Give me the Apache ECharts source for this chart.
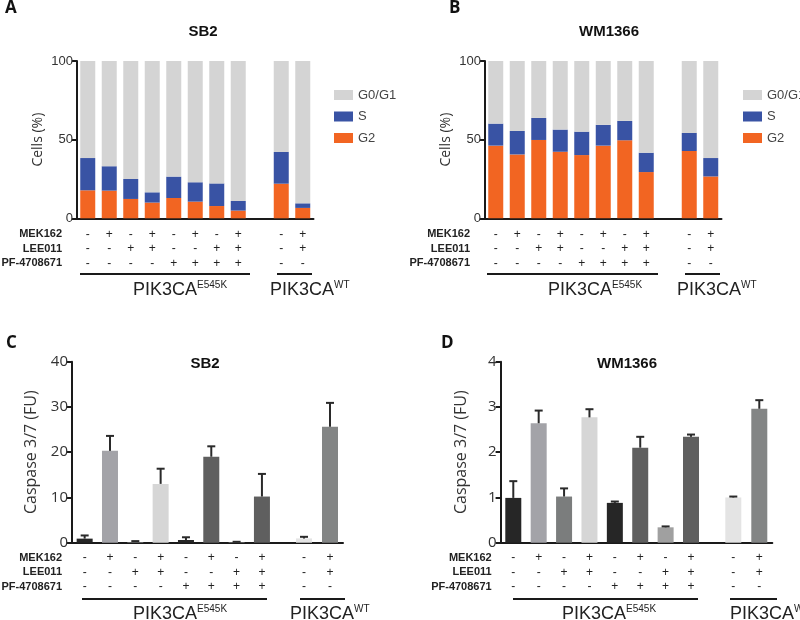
<!DOCTYPE html>
<html>
<head>
<meta charset="utf-8">
<script src="https://cdn.jsdelivr.net/npm/echarts@6/dist/echarts.min.js"></script>
<style>
  html, body { margin: 0; background: #fff; }
  #chart { width: 800px; height: 620px; }
</style>
</head>
<body>
<div id="chart"></div>
<script>
// treatments, PIK3CA E545K (8) and PIK3CA WT (2)
const mek162 = ['-', '+', '-', '+', '-', '+', '-', '+'];
const lee011 = ['-', '-', '+', '+', '-', '-', '+', '+'];
const pf4708671 = ['-', '-', '-', '-', '+', '+', '+', '+'];
const mek162WT = ['-', '+'];
const lee011WT = ['-', '+'];
const pf4708671WT = ['-', '-'];
const phases = ['G0/G1', 'S', 'G2'];

// cell cycle (%) - SB2
const sb2G2 = [17.8, 17.6, 12.3, 10.0, 12.9, 10.6, 7.8, 4.9];
const sb2S = [20.5, 15.5, 12.7, 6.5, 13.6, 12.3, 14.4, 6.1];
const sb2G0G1 = [61.7, 66.9, 75.0, 83.5, 73.5, 77.1, 77.8, 89.0];
const sb2G2WT = [22.0, 6.6];
const sb2SWT = [20.2, 2.9];
const sb2G0G1WT = [57.8, 90.5];

// cell cycle (%) - WM1366
const wmG2 = [46.2, 40.6, 49.8, 42.3, 40.2, 46.2, 49.6, 29.4];
const wmS = [14.0, 14.9, 14.0, 14.1, 14.9, 13.2, 12.3, 12.3];
const wmG0G1 = [39.8, 44.5, 36.2, 43.6, 44.9, 40.6, 38.1, 58.3];
const wmG2WT = [42.8, 26.6];
const wmSWT = [11.5, 11.7];
const wmG0G1WT = [45.7, 61.7];

// caspase 3/7 (FU), mean and upper SD
const sb2Casp = [0.9, 20.3, 0.15, 13.0, 0.6, 19.0, 0.1, 10.2];
const sb2CaspSD = [0.7, 3.3, 0.2, 3.35, 0.6, 2.3, 0.1, 5.0];
const sb2CaspWT = [0.95, 25.6];
const sb2CaspSDWT = [0.35, 5.3];
const wmCasp = [0.99, 2.64, 1.02, 2.77, 0.88, 2.10, 0.34, 2.34];
const wmCaspSD = [0.37, 0.28, 0.18, 0.18, 0.03, 0.24, 0.02, 0.05];
const wmCaspWT = [1.0, 2.96];
const wmCaspSDWT = [0.02, 0.19];

const ticksCells = [0, 50, 100];
const ticksSB2 = [0, 10, 20, 30, 40];
const ticksWM = [0, 1, 2, 3, 4];

// styles
const phaseColors = { 'G0/G1': '#d4d4d4', 'S': '#3953a4', 'G2': '#f26522' };
const condColors = ['#262626', '#a3a3a8', '#7b7d7d', '#d6d6d6', '#262626', '#5f5f5f', '#a0a0a0', '#5f5f5f'];
const condColorsWT = ['#e4e4e4', '#838585'];
const ink = '#1a1a1a';
const arial = 'Liberation Sans, Arial, sans-serif';
const myriad = 'Open Sans, Liberation Sans, sans-serif';

const chart = echarts.init(document.getElementById('chart'));

// 8 mutant slots, an empty slot, 2 WT slots
const withGap = (a, wt) => [...a, '-', ...wt];
const signs = (i) => {
  if (i < 8) return [mek162[i], lee011[i], pf4708671[i]].join('\n');
  if (i === 8) return '';
  const j = i - 9;
  return [mek162WT[j], lee011WT[j], pf4708671WT[j]].join('\n');
};
const signsWT = (i) => i === 0 ? '' : [mek162WT[i - 1], lee011WT[i - 1], pf4708671WT[i - 1]].join('\n');
const signsMut = (i) => [mek162[i], lee011[i], pf4708671[i]].join('\n');

function xCat(gridIndex, n, labelFn, hideIdx, margin) {
  return {
    type: 'category', gridIndex,
    data: Array.from({ length: n }, (_, i) => String(i)),
    axisLine: { lineStyle: { color: ink, width: 2 } },
    axisTick: { alignWithLabel: true, length: 5, interval: (i) => i !== hideIdx, lineStyle: { color: ink, width: 2 } },
    axisLabel: { interval: 0, formatter: (v, i) => labelFn(i), fontFamily: arial, fontSize: 12, lineHeight: 14.5, color: '#222', margin }
  };
}

function yVal(gridIndex, ticks, opts) {
  const step = ticks[1] - ticks[0];
  return {
    type: 'value', gridIndex, show: opts.show !== false,
    min: ticks[0], max: ticks[ticks.length - 1], interval: step,
    name: opts.name, nameLocation: 'middle', nameGap: opts.nameGap,
    nameTextStyle: { fontFamily: myriad, fontSize: opts.nameSize, color: '#333' },
    axisLine: { show: true, lineStyle: { color: ink, width: 2 } },
    axisTick: { show: true, length: 5, lineStyle: { color: ink, width: 2 } },
    axisLabel: { fontFamily: opts.labelFont, fontSize: opts.labelSize, color: '#333', margin: 4 },
    splitLine: { show: false }
  };
}

function phaseSeries(axis, g2, s, g01, g2wt, swt, g01wt) {
  const vals = { 'G2': withGap(g2, g2wt), 'S': withGap(s, swt), 'G0/G1': withGap(g01, g01wt) };
  return ['G2', 'S', 'G0/G1'].map(name => ({
    type: 'bar', name, stack: 'cc' + axis, xAxisIndex: axis, yAxisIndex: axis,
    barWidth: 15, data: vals[name], itemStyle: { color: phaseColors[name] }
  }));
}

function caspBars(axis, vals, colors, offset) {
  const data = vals.map((v, i) => ({ value: v, itemStyle: { color: colors[i] } }));
  return {
    type: 'bar', xAxisIndex: axis, yAxisIndex: axis, barWidth: 16,
    data: offset ? ['-', ...data] : data
  };
}

function errBars(axis, vals, sd, offset) {
  return {
    type: 'custom', xAxisIndex: axis, yAxisIndex: axis, z: 3,
    data: vals.map((v, i) => [i + offset, v, v + sd[i]]),
    renderItem: (params, api) => {
      const lo = api.coord([api.value(0), api.value(1)]);
      const hi = api.coord([api.value(0), api.value(2)]);
      const st = { stroke: '#2a2a2a', lineWidth: 2 };
      return {
        type: 'group', children: [
          { type: 'line', shape: { x1: lo[0], y1: lo[1], x2: hi[0], y2: hi[1] }, style: st },
          { type: 'line', shape: { x1: hi[0] - 4, y1: hi[1], x2: hi[0] + 4, y2: hi[1] }, style: st }
        ]
      };
    }
  };
}

const txt = (x, y, text, o = {}) => ({
  type: 'text', x, y, rotation: o.rotation || 0,
  style: {
    text, align: o.align || 'left', verticalAlign: 'middle',
    fontFamily: o.font || arial, fontSize: o.size || 12, fontWeight: o.weight || 'normal',
    fill: o.color || '#222', rich: o.rich
  }
});
const hline = (x1, x2, y) => ({ type: 'line', shape: { x1, y1: y, x2, y2: y }, style: { stroke: ink, lineWidth: 2 } });
const groupRich = {
  b: { fontFamily: arial, fontSize: 18, lineHeight: 20, color: '#222' },
  s: { fontFamily: arial, fontSize: 10, lineHeight: 12, verticalAlign: 'top', color: '#222' }
};
const rowNames = ['MEK162', 'LEE011', 'PF-4708671'];

const graphics = [];
// panel letters and titles
[['A', 5, 8], ['B', 449, 8], ['C', 6, 343], ['D', 441, 343]].forEach(([t, x, y]) =>
  graphics.push(txt(x, y, t, { font: myriad, size: 17, weight: 'bold', color: '#111' })));
[['SB2', 203, 32], ['WM1366', 609, 32], ['SB2', 205, 364], ['WM1366', 627, 364]].forEach(([t, x, y]) =>
  graphics.push(txt(x, y, t, { align: 'center', size: 15, weight: 'bold', color: '#111' })));
// treatment row names
[[62, 234], [470, 234], [62, 557.7], [491.7, 557.7]].forEach(([x, y0]) =>
  rowNames.forEach((n, k) => graphics.push(txt(x, y0 + k * 14.5, n, { align: 'right', size: 11, weight: 'bold', color: '#222' }))));
// genotype bars and labels
[
  [80, 250, 277, 312, 274, 133, 270, 290],
  [487, 658, 685, 720, 274, 548, 677, 290],
  [82, 267, 300, 345, 599, 133, 290, 614],
  [513, 698, 730, 777, 599, 562, 730, 614]
].forEach(([a1, a2, b1, b2, y, tx1, tx2, ty]) => {
  graphics.push(hline(a1, a2, y), hline(b1, b2, y));
  graphics.push(txt(tx1, ty, '{b|PIK3CA}{s|E545K}', { rich: groupRich }));
  graphics.push(txt(tx2, ty, '{b|PIK3CA}{s|WT}', { rich: groupRich }));
});

const legendBase = {
  data: phases, orient: 'vertical', top: 83, itemWidth: 19, itemHeight: 10, itemGap: 7.5,
  icon: 'rect', selectedMode: false,
  textStyle: { fontFamily: arial, fontSize: 13, color: '#444', lineHeight: 14 }
};

const option = {
  animation: false,
  backgroundColor: '#fff',
  legend: [
    Object.assign({}, legendBase, { left: 329 }),
    Object.assign({}, legendBase, { left: 738 })
  ],
  grid: [
    { left: 77, top: 61, width: 236.5, height: 157.3 },
    { left: 485, top: 61, width: 236.5, height: 157.3 },
    { left: 72, top: 361.7, width: 202.6, height: 181 },
    { left: 265, top: 361.7, width: 78, height: 181 },
    { left: 500.6, top: 361.7, width: 203.1, height: 181 },
    { left: 694.3, top: 361.7, width: 78, height: 181 }
  ],
  xAxis: [
    xCat(0, 11, signs, -1, 9),
    xCat(1, 11, signs, -1, 9),
    xCat(2, 8, signsMut, -1, 8),
    xCat(3, 3, signsWT, 0, 8),
    xCat(4, 8, signsMut, -1, 8),
    xCat(5, 3, signsWT, 0, 8)
  ],
  yAxis: [
    yVal(0, ticksCells, { name: 'Cells (%)', nameGap: 32, nameSize: 14, labelFont: arial, labelSize: 13 }),
    yVal(1, ticksCells, { name: 'Cells (%)', nameGap: 32, nameSize: 14, labelFont: arial, labelSize: 13 }),
    yVal(2, ticksSB2, { name: 'Caspase 3/7 (FU)', nameGap: 33, nameSize: 16, labelFont: myriad, labelSize: 15 }),
    yVal(3, ticksSB2, { show: false }),
    yVal(4, ticksWM, { name: 'Caspase 3/7 (FU)', nameGap: 31, nameSize: 16, labelFont: myriad, labelSize: 15 }),
    yVal(5, ticksWM, { show: false })
  ],
  series: [
    ...phaseSeries(0, sb2G2, sb2S, sb2G0G1, sb2G2WT, sb2SWT, sb2G0G1WT),
    ...phaseSeries(1, wmG2, wmS, wmG0G1, wmG2WT, wmSWT, wmG0G1WT),
    caspBars(2, sb2Casp, condColors, false),
    errBars(2, sb2Casp, sb2CaspSD, 0),
    caspBars(3, sb2CaspWT, condColorsWT, true),
    errBars(3, sb2CaspWT, sb2CaspSDWT, 1),
    caspBars(4, wmCasp, condColors, false),
    errBars(4, wmCasp, wmCaspSD, 0),
    caspBars(5, wmCaspWT, condColorsWT, true),
    errBars(5, wmCaspWT, wmCaspSDWT, 1)
  ],
  graphic: graphics
};

chart.setOption(option);
window.addEventListener('resize', () => chart.resize());
</script>
</body>
</html>
